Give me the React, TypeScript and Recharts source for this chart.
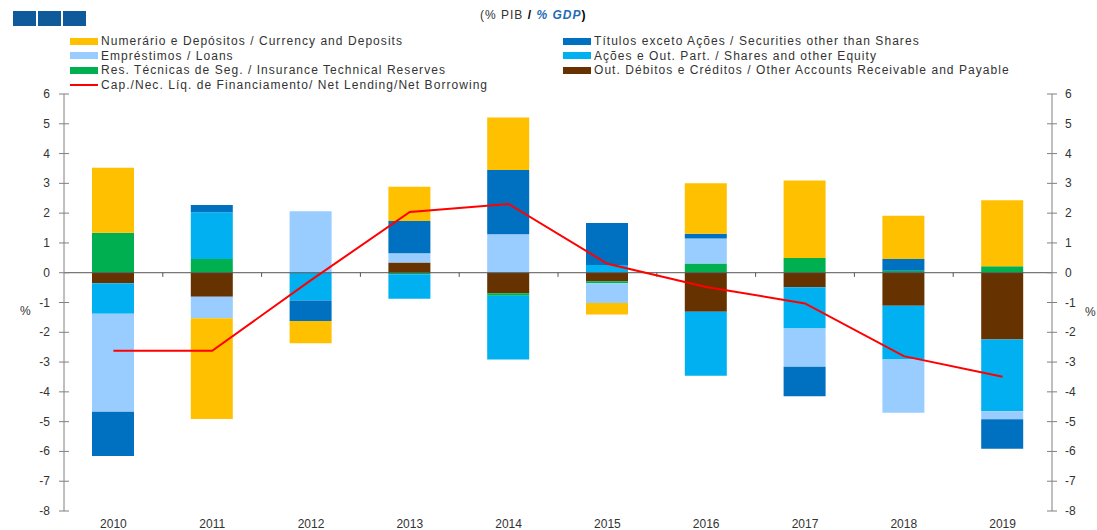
import React from "react";
import {
  ComposedChart,
  Bar,
  Line,
  XAxis,
  YAxis,
  ReferenceLine,
} from "recharts";

const years = ["2010", "2011", "2012", "2013", "2014", "2015", "2016", "2017", "2018", "2019"];
const currency = [2.18, -3.38, -0.75, 1.15, 1.76, -0.38, 1.69, 2.61, 1.45, 2.21];
const securities = [-1.48, 0.24, -0.69, 1.09, 2.16, 1.41, 0.16, -0.99, 0.39, -0.99];
const loans = [-3.29, -0.72, 2.06, 0.31, 1.29, -0.67, 0.84, -1.29, -1.79, -0.27];
const shares = [-1.03, 1.57, -0.93, -0.82, -2.14, 0.26, -2.15, -1.38, -1.8, -2.41];
const insurance = [1.34, 0.46, 0, -0.05, -0.08, -0.06, 0.31, 0.49, 0.07, 0.22];
const otherAccounts = [-0.35, -0.81, 0, 0.34, -0.69, -0.29, -1.31, -0.49, -1.11, -2.24];
const netLending = [-2.62, -2.62, -0.25, 2.04, 2.31, 0.3, -0.48, -1.03, -2.8, -3.49];

const yTicks = [-8, -7, -6, -5, -4, -3, -2, -1, 0, 1, 2, 3, 4, 5, 6];
const boundaries = [0.5, 1.5, 2.5, 3.5, 4.5, 5.5, 6.5, 7.5, 8.5];

const COLORS = {
  currency: "#FFC000",
  securities: "#0070C0",
  loans: "#99CCFF",
  shares: "#00B0F0",
  insurance: "#00B050",
  other: "#663300",
  line: "#FF0000",
};

const data = years.map((year, i) => ({
  idx: i,
  year,
  currency: currency[i],
  securities: securities[i],
  loans: loans[i],
  shares: shares[i],
  insurance: insurance[i],
  other: otherAccounts[i],
  net: netLending[i],
}));

const FONT = "'Liberation Sans', Arial, sans-serif";
const AXIS = "#808080";
const TEXT = "#333333";

const LeftTick = (props: any) => {
  const { x, y, payload } = props;
  return (
    <g>
      <line x1={x + 2} x2={x + 12} y1={y} y2={y} stroke={AXIS} />
      <text x={x - 7} y={y} dy={4} textAnchor="end" fontSize={12} fill={TEXT} fontFamily={FONT}>
        {payload.value}
      </text>
    </g>
  );
};

const RightTick = (props: any) => {
  const { x, y, payload } = props;
  return (
    <g>
      <line x1={x - 12} x2={x - 2} y1={y} y2={y} stroke={AXIS} />
      <text x={x + 6} y={y} dy={4} textAnchor="start" fontSize={12} fill={TEXT} fontFamily={FONT}>
        {payload.value}
      </text>
    </g>
  );
};

const legendLeft = [
  { label: "Numerário e Depósitos / Currency and Deposits", color: COLORS.currency },
  { label: "Empréstimos / Loans", color: COLORS.loans },
  { label: "Res. Técnicas de Seg. / Insurance Technical Reserves", color: COLORS.insurance },
  { label: "Cap./Nec. Líq. de Financiamento/ Net Lending/Net Borrowing", color: COLORS.line, line: true },
];
const legendRight = [
  { label: "Títulos exceto Ações / Securities other than Shares", color: COLORS.securities },
  { label: "Ações e Out. Part. / Shares and other Equity", color: COLORS.shares },
  { label: "Out. Débitos e Créditos / Other Accounts Receivable and Payable", color: COLORS.other },
];

const LegendItem = ({ item, left, top }: any) => (
  <div style={{ position: "absolute", left, top, height: 14, display: "flex", alignItems: "center" }}>
    <div
      style={{
        width: 28,
        height: item.line ? 2 : 7,
        background: item.color,
        marginRight: 3,
      }}
    />
    <span style={{ fontSize: 12, letterSpacing: 1.05, color: TEXT, whiteSpace: "nowrap" }}>{item.label}</span>
  </div>
);

export default function App() {
  return (
    <div
      style={{
        position: "absolute",
        left: 0,
        top: 0,
        width: 1097,
        height: 530,
        background: "#fff",
        fontFamily: FONT,
        overflow: "hidden",
      }}
    >
      <div style={{ position: "absolute", left: 13, top: 11, display: "flex", gap: 2 }}>
        {[0, 1, 2].map((k) => (
          <div key={k} style={{ width: 23, height: 15, background: "#0E5A9B" }} />
        ))}
      </div>
      <div
        style={{
          position: "absolute",
          left: 480,
          top: 8,
          fontSize: 12,
          letterSpacing: 1,
          color: TEXT,
          whiteSpace: "nowrap",
        }}
      >
        (% PIB <b style={{ color: "#000" }}>/</b>{" "}
        <b style={{ color: "#1F6BB5", fontStyle: "italic" }}>% GDP</b>
        <b style={{ color: "#000" }}>)</b>
      </div>

      {legendLeft.map((item, i) => (
        <LegendItem key={item.label} item={item} left={70} top={34 + i * 14.5} />
      ))}
      {legendRight.map((item, i) => (
        <LegendItem key={item.label} item={item} left={563} top={34 + i * 14.5} />
      ))}

      <span style={{ position: "absolute", left: 20, top: 304, fontSize: 12, color: TEXT }}>%</span>
      <span style={{ position: "absolute", left: 1085, top: 305, fontSize: 12, color: TEXT }}>%</span>

      <div style={{ position: "absolute", left: 0, top: 0 }}>
        <ComposedChart
          width={1097}
          height={530}
          data={data}
          stackOffset="sign"
          margin={{ top: 94, right: 0, bottom: 0, left: 0 }}
        >
          <XAxis
            dataKey="idx"
            type="number"
            domain={[-0.5, 9.5]}
            ticks={years.map((_, i) => i)}
            tickFormatter={(v: number) => years[v]}
            axisLine={false}
            tickLine={false}
            height={19}
            tick={{ fontSize: 12, fill: TEXT, fontFamily: FONT }}
            interval={0}
          />
          <YAxis
            yAxisId="left"
            orientation="left"
            width={64}
            domain={[-8, 6]}
            ticks={yTicks}
            interval={0}
            axisLine={{ stroke: AXIS }}
            tickLine={false}
            tickSize={5}
            tickMargin={2}
            tick={<LeftTick />}
          />
          <YAxis
            yAxisId="right"
            orientation="right"
            width={45}
            domain={[-8, 6]}
            ticks={yTicks}
            interval={0}
            axisLine={{ stroke: AXIS }}
            tickLine={false}
            tickSize={5}
            tickMargin={2}
            tick={<RightTick />}
          />
          <Bar yAxisId="left" dataKey="other" stackId="s" fill={COLORS.other} barSize={42} isAnimationActive={false} />
          <Bar yAxisId="left" dataKey="insurance" stackId="s" fill={COLORS.insurance} barSize={42} isAnimationActive={false} />
          <Bar yAxisId="left" dataKey="shares" stackId="s" fill={COLORS.shares} barSize={42} isAnimationActive={false} />
          <Bar yAxisId="left" dataKey="loans" stackId="s" fill={COLORS.loans} barSize={42} isAnimationActive={false} />
          <Bar yAxisId="left" dataKey="securities" stackId="s" fill={COLORS.securities} barSize={42} isAnimationActive={false} />
          <Bar yAxisId="left" dataKey="currency" stackId="s" fill={COLORS.currency} barSize={42} isAnimationActive={false} />
          <ReferenceLine yAxisId="left" y={0} stroke="#555555" strokeWidth={1} />
          {boundaries.map((b) => (
            <ReferenceLine
              key={b}
              yAxisId="left"
              segment={[
                { x: b, y: 0 },
                { x: b, y: -0.14 },
              ]}
              stroke="#555555"
            />
          ))}
          <Line
            yAxisId="right"
            dataKey="net"
            stroke={COLORS.line}
            strokeWidth={2}
            dot={false}
            type="linear"
            isAnimationActive={false}
          />
        </ComposedChart>
      </div>
    </div>
  );
}
